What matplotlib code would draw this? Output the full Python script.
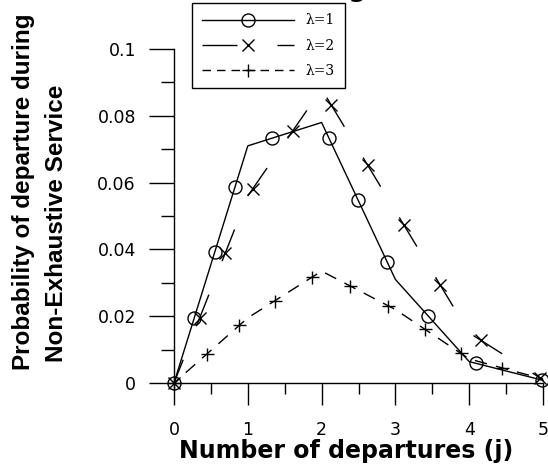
import numpy as np
import matplotlib
matplotlib.use("Agg")
import matplotlib.pyplot as plt
from matplotlib import patheffects
from matplotlib.markers import MarkerStyle
from matplotlib.path import Path
from matplotlib.transforms import Affine2D, IdentityTransform
from matplotlib.lines import Line2D
from matplotlib.font_manager import FontProperties

# values
j = [0, 1, 2, 3, 4, 5]
p_lam1 = [0, 0.071, 0.078, 0.031, 0.0064, 0.0008]
p_lam2 = [0, 0.056, 0.088, 0.0515, 0.015, 0.001]
p_lam3 = [0, 0.0195, 0.0335, 0.022, 0.0072, 0.0012]
labels = ["λ=1", "λ=2", "λ=3"]

PX = 72.0 / 100  # points per pixel at dpi 100


class MarksAlong(patheffects.AbstractPathEffect):
    # old sigmaplot look: symbols every `step` points along the drawn line
    def __init__(self, marker, step, size, mew=1.0):
        super().__init__()
        self.marker = MarkerStyle(marker)
        self.step = step
        self.size = size
        self.mew = mew

    def draw_path(self, renderer, gc, tpath, affine, rgbFace=None):
        renderer.draw_path(gc, tpath, affine, rgbFace)
        xy = affine.transform(tpath.vertices)
        d = np.concatenate([[0], np.cumsum(np.hypot(*np.diff(xy, axis=0).T))])
        step = renderer.points_to_pixels(self.step)
        s = np.arange(0, d[-1] + 0.5, step)
        pts = np.column_stack([np.interp(s, d, xy[:, 0]), np.interp(s, d, xy[:, 1])])
        gc2 = renderer.new_gc()
        gc2.copy_properties(gc)
        gc2.set_dashes(0, None)
        gc2.set_linewidth(self.mew)
        size = renderer.points_to_pixels(self.size)
        mtrans = self.marker.get_transform() + Affine2D().scale(size)
        renderer.draw_markers(gc2, self.marker.get_path(), mtrans, Path(pts),
                              IdentityTransform(), None)
        gc2.restore()


fig = plt.figure(figsize=(5.48, 4.70), dpi=100)
ax = fig.add_axes([174 / 548, 87 / 470, 369 / 548, 334 / 470])

ax.plot(j, p_lam1, color="k", lw=1.0, clip_on=False,
        path_effects=[MarksAlong("o", 68.5 * PX, 13 * PX)])
ax.plot(j, p_lam2, color="k", lw=1.0, clip_on=False,
        ls=(9 * PX, (34 * PX, 36 * PX)),
        path_effects=[MarksAlong("x", 70 * PX, 12 * PX)])
ax.plot(j, p_lam3, color="k", lw=1.0, clip_on=False,
        ls=(6 * PX, (12.5 * PX, 9.25 * PX)),
        path_effects=[MarksAlong("+", 43.5 * PX, 13 * PX)])

ax.set_xlim(0, 5)
ax.set_ylim(0, 0.1)
ax.set_xticks([0, 1, 2, 3, 4, 5])
ax.set_xticks(np.arange(0.5, 5, 1), minor=True)
ax.set_yticks([0, 0.02, 0.04, 0.06, 0.08, 0.1])
ax.set_yticklabels(["0", "0.02", "0.04", "0.06", "0.08", "0.1"])
ax.set_yticks(np.arange(0.01, 0.1, 0.02), minor=True)

for sp in ["top", "right"]:
    ax.spines[sp].set_visible(False)
for sp in ["left", "bottom"]:
    ax.spines[sp].set_linewidth(1.0)

ax.tick_params(axis="x", which="major", direction="out", length=22 * PX, width=1.0,
               pad=11.5, labelsize=12.5)
ax.tick_params(axis="x", which="minor", direction="out", length=11 * PX, width=1.0)
ax.tick_params(axis="y", which="major", direction="out", length=25 * PX, width=1.0,
               pad=9.4, labelsize=12.5)
ax.tick_params(axis="y", which="minor", direction="out", length=13 * PX, width=1.0)

fig.text(346.5 / 548, 12 / 470, "Number of departures (j)", ha="center", va="baseline",
         fontsize=17, fontweight="bold", family="DejaVu Sans")
fig.text(24 / 548, 1 - 192 / 470, "Probability of departure during", rotation=90,
         ha="center", va="center", fontsize=17.5, fontweight="bold",
         family="Liberation Sans")
fig.text(57 / 548, 1 - 223 / 470, "Non-Exhaustive Service", rotation=90,
         ha="center", va="center", fontsize=17.5, fontweight="bold",
         family="Liberation Sans")

# title sits mostly above the canvas in the source image
fig.text(432 / 548, 1 + 2.8 / 470, "Arrival Rate Change (a)", ha="right", va="baseline",
         fontsize=18, fontweight="bold", family="DejaVu Sans")

handles = [
    Line2D([], [], color="k", lw=1.0, marker="o", mfc="none", ms=13 * PX, mew=1.0),
    Line2D([], [], color="k", lw=1.0, ls=(0, (35 * PX, 40 * PX)), marker="x",
           ms=12 * PX, mew=1.0),
    Line2D([], [], color="k", lw=1.0, ls=(0, (8.5 * PX, 6 * PX)), marker="+",
           ms=13 * PX, mew=1.0),
]
leg = fig.legend(handles, labels, loc="upper left",
                 bbox_to_anchor=(192 / 548, 1 - 3 / 470), bbox_transform=fig.transFigure,
                 borderaxespad=0, prop=FontProperties(family="DejaVu Serif", size=10),
                 handlelength=6.6, handletextpad=0.8, labelspacing=0.8, borderpad=0.75,
                 numpoints=1, fancybox=False, framealpha=1, edgecolor="k")
leg.get_frame().set_linewidth(1.0)

fig.savefig("out.png", dpi=100)
